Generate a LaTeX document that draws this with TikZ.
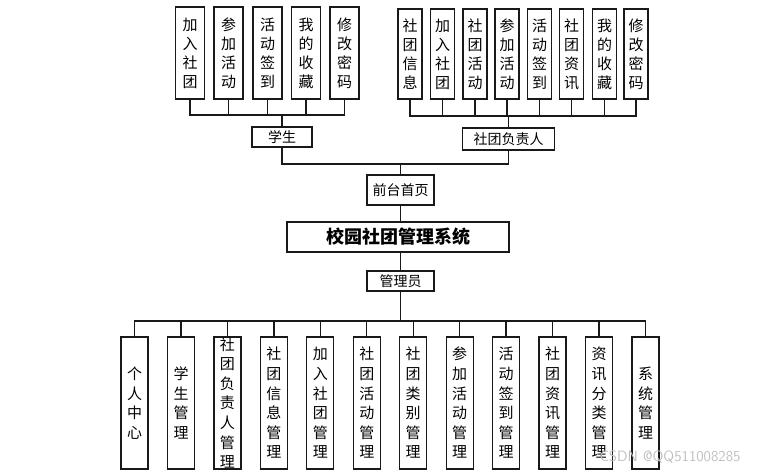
\documentclass[tikz,border=0pt]{standalone}
\usepackage{fontspec}
\newfontfamily\cjk{Noto Sans CJK SC}
\usetikzlibrary{positioning}

\begin{document}
\begin{tikzpicture}[
  x=1pt, y=-1pt, line width=1.3pt, draw=black!90,
  leaf/.style={draw, inner sep=0pt, align=center,
               font=\cjk\fontsize{15}{19}\selectfont},
  tleaf/.style={leaf, minimum width=29pt, minimum height=92pt},
  rleaf/.style={leaf, minimum width=24pt, minimum height=90pt},
  bleaf/.style={leaf, minimum width=27pt, minimum height=132pt,
                font=\cjk\fontsize{15}{19.6}\selectfont},
  role/.style={draw, inner sep=0pt, font=\cjk\fontsize{14}{16}\selectfont}]
  \useasboundingbox (0,0) rectangle (760,471);

  \node[tleaf] (s1) at (190,53) {加\\入\\社\\团};
  \node[tleaf] (s2) at (228.5,53) {参\\加\\活\\动};
  \node[tleaf] (s3) at (267.5,53) {活\\动\\签\\到};
  \node[tleaf] (s4) at (306,53) {我\\的\\收\\藏};
  \node[tleaf] (s5) at (344.5,53) {修\\改\\密\\码};

  \node[rleaf] (c1) at (410,54) {社\\团\\信\\息};
  \node[rleaf] (c2) at (442.5,54) {加\\入\\社\\团};
  \node[rleaf] (c3) at (475,54) {社\\团\\活\\动};
  \node[rleaf] (c4) at (507,54) {参\\加\\活\\动};
  \node[rleaf] (c5) at (539.5,54) {活\\动\\签\\到};
  \node[rleaf] (c6) at (571.5,54) {社\\团\\资\\讯};
  \node[rleaf] (c7) at (604.5,54) {我\\的\\收\\藏};
  \node[rleaf] (c8) at (636,54) {修\\改\\密\\码};

  \node[role, minimum width=60pt, minimum height=20pt] (stu) at (282,137) {学生};
  \node[role, minimum width=92pt, minimum height=22pt] (lead) at (508.5,139) {社团负责人};
  \node[role, minimum width=67pt, minimum height=30pt] (front) at (400.5,190) {前台首页};
  \node[role, minimum width=222pt, minimum height=30pt,
        font=\cjk\bfseries\fontsize{18}{20}\selectfont] (sys) at (398,237) {校园社团管理系统};
  \node[role, minimum width=67pt, minimum height=20pt] (admin) at (400.5,281) {管理员};

  \node[bleaf] (a1) at (134.5,403) {个\\人\\中\\心};
  \node[bleaf] (a2) at (181,403) {学\\生\\管\\理};
  \node[bleaf] (a3) at (227.4,403) {社\\团\\负\\责\\人\\管\\理};
  \node[bleaf] (a4) at (273.9,403) {社\\团\\信\\息\\管\\理};
  \node[bleaf] (a5) at (320.3,403) {加\\入\\社\\团\\管\\理};
  \node[bleaf] (a6) at (366.8,403) {社\\团\\活\\动\\管\\理};
  \node[bleaf] (a7) at (413.2,403) {社\\团\\类\\别\\管\\理};
  \node[bleaf] (a8) at (459.7,403) {参\\加\\活\\动\\管\\理};
  \node[bleaf] (a9) at (506.1,403) {活\\动\\签\\到\\管\\理};
  \node[bleaf] (a10) at (552.6,403) {社\\团\\资\\讯\\管\\理};
  \node[bleaf] (a11) at (599,403) {资\\讯\\分\\类\\管\\理};
  \node[bleaf] (a12) at (645.5,403) {系\\统\\管\\理};

  \coordinate (sbus) at (282,115);
  \coordinate (lbus) at (508.5,116);
  \coordinate (fbus) at (400.5,164);
  \coordinate (abus) at (400.5,321);

  \draw (stu.north) -- (sbus);
  \draw (s1.south) |- (sbus);
  \draw (s2.south) |- (sbus);
  \draw (s3.south) |- (sbus);
  \draw (s4.south) |- (sbus);
  \draw (s5.south) |- (sbus);
  \draw (lead.north) -- (lbus);
  \draw (c1.south) |- (lbus);
  \draw (c2.south) |- (lbus);
  \draw (c3.south) |- (lbus);
  \draw (c4.south) |- (lbus);
  \draw (c5.south) |- (lbus);
  \draw (c6.south) |- (lbus);
  \draw (c7.south) |- (lbus);
  \draw (c8.south) |- (lbus);
  \draw (stu.south) |- (fbus);
  \draw (lead.south) |- (fbus);
  \draw (fbus) -- (front.north);
  \draw (front.south) -- (sys.north -| front.south);
  \draw (sys.south -| admin.north) -- (admin.north);
  \draw (admin.south) -- (abus);
  \draw (a1.north) |- (abus);
  \draw (a2.north) |- (abus);
  \draw (a3.north) |- (abus);
  \draw (a4.north) |- (abus);
  \draw (a5.north) |- (abus);
  \draw (a6.north) |- (abus);
  \draw (a7.north) |- (abus);
  \draw (a8.north) |- (abus);
  \draw (a9.north) |- (abus);
  \draw (a10.north) |- (abus);
  \draw (a11.north) |- (abus);
  \draw (a12.north) |- (abus);

  \node[font=\sffamily\fontsize{15}{16}\selectfont, text=black!25] (mark) at (670,457) {CSDN @QQ511008285};
\end{tikzpicture}
\end{document}
